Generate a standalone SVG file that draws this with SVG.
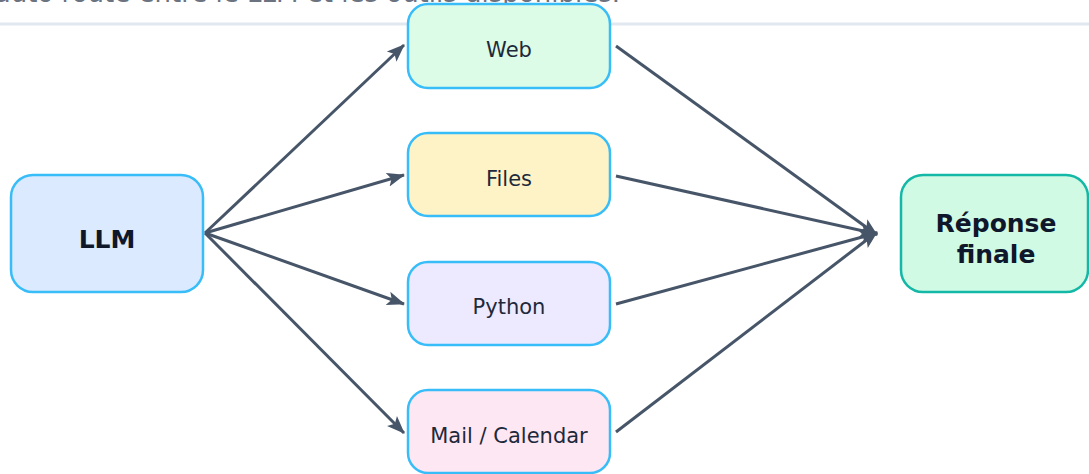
<svg xmlns="http://www.w3.org/2000/svg" width="1089" height="474" viewBox="0 0 1089 474">
<style>
.node rect{stroke-width:2.5}
.tool rect{stroke:#38bdf8}
.lbl{font-family:"DejaVu Sans",sans-serif;font-size:21px;fill:#1e293b;text-anchor:middle}
.blbl{font-family:"DejaVu Sans",sans-serif;font-size:25px;font-weight:bold;fill:#0f172a;text-anchor:middle}
.edge{stroke:#475569;stroke-width:3;fill:none;marker-end:url(#ah)}
</style>
<defs>
<marker id="ah" markerUnits="userSpaceOnUse" markerWidth="20" markerHeight="16" refX="17" refY="8" orient="auto">
<path d="M0,1 L18,8 L0,15 L4,8 Z" fill="#475569"/>
</marker>
</defs>
<rect width="1089" height="474" fill="#ffffff"/>
<text x="620" y="2" font-family="DejaVu Sans, sans-serif" font-size="26" fill="#6b7280" text-anchor="end">auto routé entre le LLM et les outils disponibles.</text>
<line x1="0" y1="24" x2="1089" y2="24" stroke="#e2e8f0" stroke-width="3"/>
<g id="connectors">
<path class="edge" d="M205,233 L404,45"/>
<path class="edge" d="M205,233 L404,175"/>
<path class="edge" d="M205,233 L404,304"/>
<path class="edge" d="M205,233 L404,433"/>
<path class="edge" d="M616,46 L877,235"/>
<path class="edge" d="M616,176 L877,234"/>
<path class="edge" d="M616,304 L877,233"/>
<path class="edge" d="M616,432 L877,232"/>
</g>
<g id="llm" class="node">
<rect x="11" y="175" width="192" height="117" rx="22" fill="#dbeafe" stroke="#38bdf8"/>
<text class="blbl" x="107" y="248">LLM</text>
</g>
<g id="web" class="node tool">
<rect x="408" y="4" width="202" height="84" rx="20" fill="#dcfce7"/>
<text class="lbl" x="509" y="57">Web</text>
</g>
<g id="files" class="node tool">
<rect x="408" y="133" width="202" height="83" rx="20" fill="#fef3c7"/>
<text class="lbl" x="509" y="186">Files</text>
</g>
<g id="python" class="node tool">
<rect x="408" y="262" width="202" height="83" rx="20" fill="#ede9fe"/>
<text class="lbl" x="509" y="314">Python</text>
</g>
<g id="mail" class="node tool">
<rect x="408" y="390" width="202" height="83" rx="20" fill="#fce7f3"/>
<text class="lbl" x="509" y="443">Mail / Calendar</text>
</g>
<g id="reponse" class="node">
<rect x="901" y="175" width="187" height="117" rx="22" fill="#d1fae5" stroke="#14b8a6"/>
<text class="blbl" x="996" y="232">Réponse</text>
<text class="blbl" x="996" y="263">finale</text>
</g>
</svg>
